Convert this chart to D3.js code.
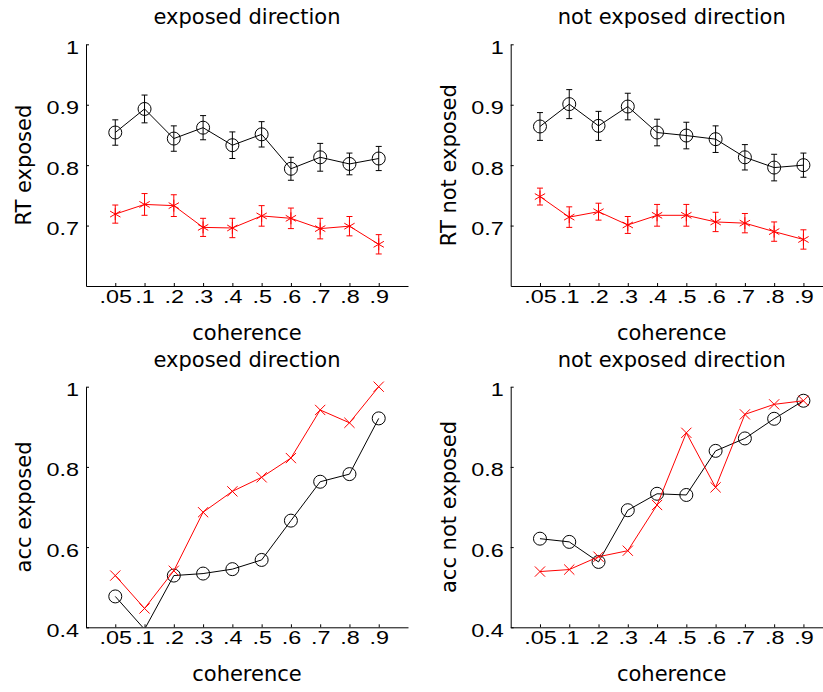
<!DOCTYPE html>
<html>
<head>
<meta charset="utf-8">
<script src="https://cdn.jsdelivr.net/npm/d3@7"></script>
<style>
body { margin: 0; background: #fff; }
.axis path, .axis line { stroke: #000; stroke-width: 1; }
.axis text { font-family: "Liberation Sans", Arial, sans-serif; font-size: 18px; fill: #000; }
.label { font-family: "DejaVu Sans", sans-serif; font-size: 21px; fill: #000; }
</style>
</head>
<body>
<script>
// coherence levels, drawn evenly spaced
var tickLabels = ['.05', '.1', '.2', '.3', '.4', '.5', '.6', '.7', '.8', '.9'];
var positions = [1, 2, 3, 4, 5, 6, 7, 8, 9, 10];

// RT, exposed direction
var rtExpBlack    = [0.854, 0.893, 0.844, 0.862, 0.833, 0.851, 0.794, 0.813, 0.802, 0.811];
var rtExpBlackErr = [0.021, 0.023, 0.021, 0.020, 0.022, 0.021, 0.019, 0.023, 0.018, 0.020];
var rtExpRed      = [0.719, 0.735, 0.733, 0.697, 0.696, 0.716, 0.712, 0.695, 0.699, 0.669];
var rtExpRedErr   = [0.015, 0.018, 0.018, 0.015, 0.016, 0.017, 0.017, 0.017, 0.016, 0.016];

// RT, not exposed direction
var rtNotBlack    = [0.864, 0.901, 0.865, 0.897, 0.854, 0.849, 0.843, 0.813, 0.796, 0.800];
var rtNotBlackErr = [0.023, 0.024, 0.024, 0.022, 0.022, 0.022, 0.022, 0.021, 0.022, 0.020];
var rtNotRed      = [0.748, 0.714, 0.723, 0.701, 0.717, 0.717, 0.706, 0.704, 0.690, 0.677];
var rtNotRedErr   = [0.014, 0.017, 0.014, 0.014, 0.018, 0.018, 0.016, 0.016, 0.016, 0.016];

// accuracy
var accExpBlack = [0.477, 0.395, 0.529, 0.534, 0.545, 0.568, 0.666, 0.763, 0.782, 0.921];
var accExpRed   = [0.529, 0.447, 0.541, 0.687, 0.739, 0.774, 0.822, 0.942, 0.910, 1.000];
var accNotBlack = [0.621, 0.613, 0.563, 0.692, 0.733, 0.730, 0.840, 0.871, 0.920, 0.965];
var accNotRed   = [0.539, 0.544, 0.576, 0.591, 0.705, 0.885, 0.749, 0.931, 0.956, 0.965];

var rtTicks = [0.7, 0.8, 0.9, 1];
var accTicks = [0.4, 0.6, 0.8, 1];

var W = 322;
var stretch = 1.3; // tick labels are drawn wide in the original
var panels = [
	{x: 86, y: 44.3, h: 241.7, title: 'exposed direction', ylab: 'RT exposed', dom: [0.6, 1], ticks: rtTicks,
	 black: rtExpBlack, blackErr: rtExpBlackErr, red: rtExpRed, redErr: rtExpRedErr, redMark: 'asterisk'},
	{x: 510.7, y: 44.3, h: 241.7, title: 'not exposed direction', ylab: 'RT not exposed', dom: [0.6, 1], ticks: rtTicks,
	 black: rtNotBlack, blackErr: rtNotBlackErr, red: rtNotRed, redErr: rtNotRedErr, redMark: 'asterisk'},
	{x: 86, y: 386.7, h: 240.6, title: 'exposed direction', ylab: 'acc exposed', dom: [0.4, 1], ticks: accTicks,
	 black: accExpBlack, red: accExpRed, redMark: 'times'},
	{x: 510.7, y: 386.7, h: 240.6, title: 'not exposed direction', ylab: 'acc not exposed', dom: [0.4, 1], ticks: accTicks,
	 black: accNotBlack, red: accNotRed, redMark: 'times'}
];

var svg = d3.select('body').append('svg')
	.attr('width', 823)
	.attr('height', 692);

var x = d3.scaleLinear().domain([0, 11]).range([0, W]);

panels.forEach(function(p, pi) {
	var y = d3.scaleLinear().domain(p.dom).range([p.h, 0]);
	var g = svg.append('g').attr('transform', 'translate(' + p.x + ',' + p.y + ')');

	g.append('clipPath').attr('id', 'clip' + pi)
		.append('rect').attr('width', W).attr('height', p.h);

	// axes (ticks point inward, no box)
	g.append('g')
		.attr('class', 'axis')
		.attr('transform', 'translate(0,' + p.h + ')')
		.call(d3.axisBottom(x).tickValues(positions)
			.tickFormat(function(d, i) { return tickLabels[i]; })
			.tickSizeInner(-3).tickSizeOuter(0).tickPadding(4))
		.selectAll('text').attr('transform', 'scale(' + stretch + ',1)');

	g.append('g')
		.attr('class', 'axis')
		.call(d3.axisLeft(y).tickValues(p.ticks.filter(function(t) { return t > p.dom[0] || pi > 1; }))
			.tickFormat(d3.format('~g'))
			.tickSizeInner(-3).tickSizeOuter(0).tickPadding(7))
		.selectAll('text')
		.attr('dy', '0.5em')
		.attr('x', -7 / stretch)
		.attr('transform', 'scale(' + stretch + ',1)');

	// titles and labels
	g.append('text').attr('class', 'label')
		.attr('x', W / 2).attr('y', -20)
		.style('text-anchor', 'middle')
		.text(p.title);

	g.append('text').attr('class', 'label')
		.attr('x', W / 2).attr('y', p.h + 54)
		.style('text-anchor', 'middle')
		.text('coherence');

	g.append('text').attr('class', 'label')
		.attr('transform', 'translate(-55,' + (p.h / 2) + ') rotate(-90)')
		.style('text-anchor', 'middle')
		.text(p.ylab);

	var series = [
		{vals: p.black, err: p.blackErr, color: '#000', mark: 'circle'},
		{vals: p.red, err: p.redErr, color: '#ff0000', mark: p.redMark}
	];

	series.forEach(function(s) {
		var pts = s.vals.map(function(v, i) { return {x: positions[i], v: v, e: s.err ? s.err[i] : 0}; });
		var line = d3.line()
			.x(function(d) { return x(d.x); })
			.y(function(d) { return y(d.v); });

		g.append('path')
			.datum(pts)
			.attr('clip-path', 'url(#clip' + pi + ')')
			.attr('d', line)
			.attr('fill', 'none')
			.attr('stroke', s.color)
			.attr('stroke-width', 1);

		var visible = pts.filter(function(d) { return d.v >= p.dom[0]; });

		if (s.err) {
			var eb = g.append('g').selectAll('.eb').data(visible).enter().append('g')
				.attr('stroke', s.color).attr('stroke-width', 1);
			eb.append('line')
				.attr('x1', function(d) { return x(d.x); }).attr('x2', function(d) { return x(d.x); })
				.attr('y1', function(d) { return y(d.v - d.e); }).attr('y2', function(d) { return y(d.v + d.e); });
			eb.append('line')
				.attr('x1', function(d) { return x(d.x) - 3; }).attr('x2', function(d) { return x(d.x) + 3; })
				.attr('y1', function(d) { return y(d.v - d.e); }).attr('y2', function(d) { return y(d.v - d.e); });
			eb.append('line')
				.attr('x1', function(d) { return x(d.x) - 3; }).attr('x2', function(d) { return x(d.x) + 3; })
				.attr('y1', function(d) { return y(d.v + d.e); }).attr('y2', function(d) { return y(d.v + d.e); });
		}

		var sym;
		if (s.mark === 'circle') sym = d3.symbol().type(d3.symbolCircle).size(Math.PI * 6.5 * 6.5);
		else if (s.mark === 'asterisk') sym = d3.symbol().type(d3.symbolAsterisk).size(100);
		else sym = d3.symbol().type(d3.symbolTimes).size(70);

		g.append('g').selectAll('.mk').data(visible).enter().append('path')
			.attr('transform', function(d) { return 'translate(' + x(d.x) + ',' + y(d.v) + ')'; })
			.attr('d', sym)
			.attr('fill', 'none')
			.attr('stroke', s.color)
			.attr('stroke-width', 1);
	});
});
</script>
</body>
</html>
